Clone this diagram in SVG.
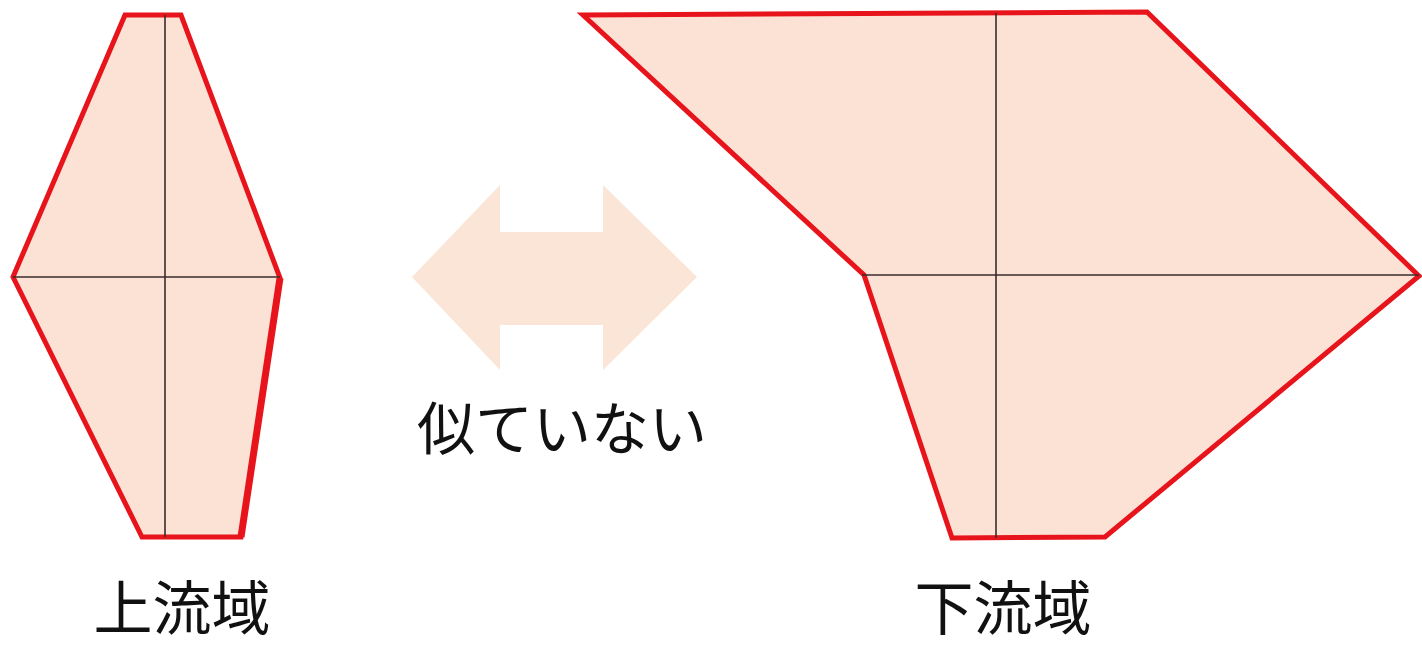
<svg xmlns="http://www.w3.org/2000/svg" width="1422" height="646" viewBox="0 0 1422 646">
<style>
.shape{fill:#FBE2D5;stroke:#E8141C;stroke-width:5;stroke-linejoin:miter}
.axis{stroke:#3a2b2b;stroke-width:1.6;fill:none}
.lbl{font-family:"Noto Sans CJK JP","Noto Sans CJK SC",sans-serif;fill:#111;text-anchor:middle}
</style>
<rect width="1422" height="646" fill="#fff"/>
<g id="upstream">
<polygon class="shape" points="125,15 181,15 280,278 241,537 142,537 13,277"/>
<line class="axis" x1="165" y1="15" x2="165" y2="537"/>
<line class="axis" x1="13" y1="277" x2="280" y2="277"/>
<polyline points="280,278 241,537" fill="none" stroke="#E8141C" stroke-width="7"/>
</g>
<g id="downstream">
<polygon class="shape" points="583,15 1147,12 1419,276 1105,537 952,538 864,275"/>
<line class="axis" x1="996" y1="13" x2="996" y2="538"/>
<line class="axis" x1="862" y1="275" x2="1419" y2="275"/>
</g>
<g id="connectors">
<polygon points="412,277 500,185 500,232 603,232 603,185 697,277 603,370 603,325 500,325 500,370" fill="#FBE5D7"/>
</g>
<g id="labels">
<text class="lbl" x="562" y="450" font-size="58">似ていない</text>
<text class="lbl" x="182" y="630" font-size="59">上流域</text>
<text class="lbl" x="1003" y="630" font-size="59">下流域</text>
</g>
</svg>
